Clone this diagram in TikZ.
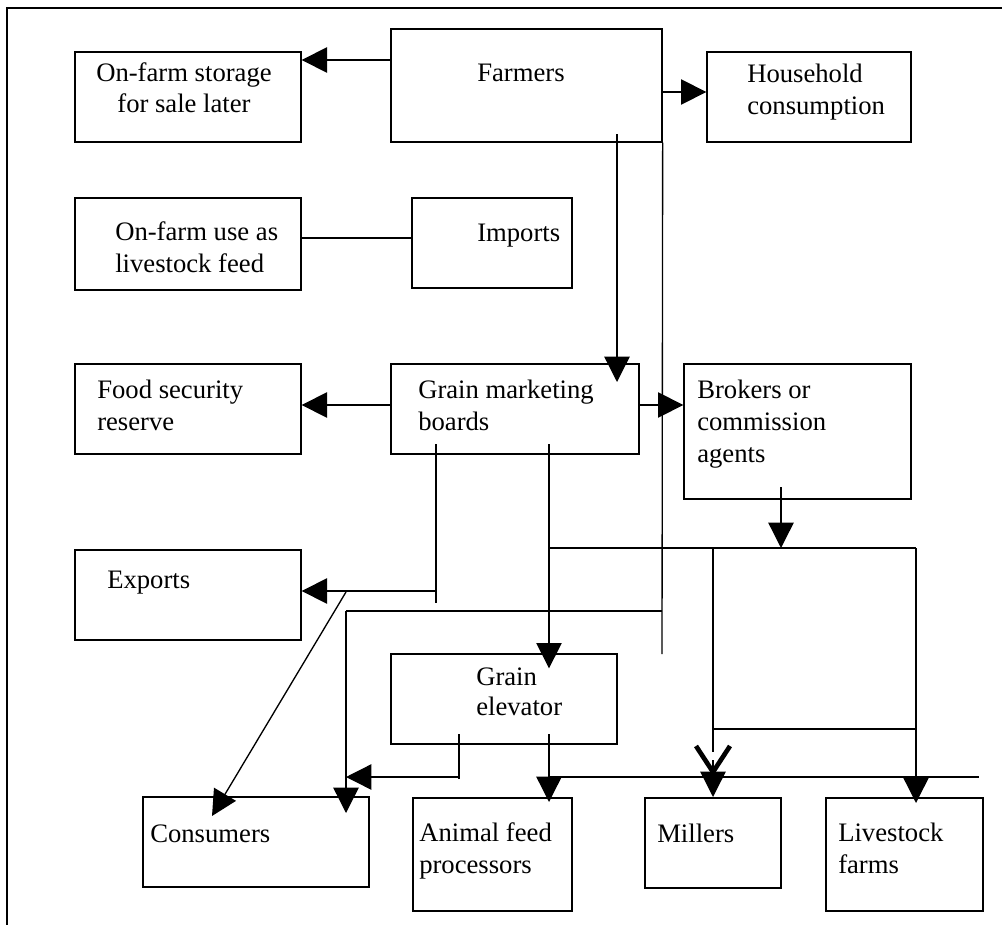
\documentclass[tikz,border=0pt]{standalone}
\usepackage{fontspec}
\setmainfont{Liberation Serif}
\usetikzlibrary{arrows.meta,fit}
\begin{document}
\begin{tikzpicture}[x=0.75pt,y=-0.75pt,
  box/.style={draw,line width=1pt,inner sep=0pt,rectangle},
  txt/.style={inner sep=0pt,font=\fontsize{20}{24}\selectfont,align=left},
  ln/.style={line width=1pt},
  arr/.style={line width=1pt,-{Triangle[length=19pt,width=19pt]}},
  vmark/.style={line width=3.5pt}
]
\useasboundingbox (0,0) rectangle (1002,924);
% frame
\draw[line width=1.2pt] (1010,8) -- (7,8) -- (7,930);
% boxes
\node[box,fit={(75,52)(301,142)}] (stor) {};
\node[box,fit={(391,29)(662,142)}] (farm) {};
\node[box,fit={(707,52)(911,142)}] (hh) {};
\node[box,fit={(75,198)(301,290)}] (use) {};
\node[box,fit={(412,198)(572,288)}] (imp) {};
\node[box,fit={(75,364)(301,454)}] (food) {};
\node[box,fit={(391,364)(639,454)}] (gmb) {};
\node[box,fit={(684,364)(911,499)}] (brok) {};
\node[box,fit={(75,550)(301,640)}] (exp) {};
\node[box,fit={(391,654)(617,744)}] (elev) {};
\node[box,fit={(143,797)(369,887)}] (cons) {};
\node[box,fit={(413,798)(572,911)}] (anim) {};
\node[box,fit={(645,798)(781,888)}] (mill) {};
\node[box,fit={(826,798)(983,911)}] (live) {};
% texts (anchor = baseline of the last line)
\node[txt,align=center,anchor=base] (stor-t) at (184,113) {On-farm storage\\for sale later};
\node[txt,anchor=base] (farm-t) at (521,82) {Farmers};
\node[txt,anchor=base west] (hh-t) at (747,114) {Household\\consumption};
\node[txt,anchor=base west] (use-t) at (115,272) {On-farm use as\\livestock feed};
\node[txt,anchor=base west] (imp-t) at (477,241) {Imports};
\node[txt,anchor=base west] (food-t) at (97,430) {Food security\\reserve};
\node[txt,anchor=base west] (gmb-t) at (418,430) {Grain marketing\\boards};
\node[txt,anchor=base west] (brok-t) at (697,462) {Brokers or\\commission\\agents};
\node[txt,anchor=base west] (exp-t) at (107,588) {Exports};
\node[txt,anchor=base west,font=\fontsize{20}{22.5}\selectfont] (elev-t) at (476,715) {Grain\\elevator};
\node[txt,anchor=base west] (cons-t) at (150,842) {Consumers};
\node[txt,anchor=base west] (anim-t) at (419,873) {Animal feed\\processors};
\node[txt,anchor=base west] (mill-t) at (657,842) {Millers};
\node[txt,anchor=base west] (live-t) at (838,873) {Livestock\\farms};
% connectors
\draw[arr] (farm.west |- 0,60) -- (stor.east |- 0,60);
\draw[arr] (farm.east |- 0,92) -- (hh.west |- 0,92);
\draw[ln] (use.east |- 0,238) -- (imp.west |- 0,238);
\coordinate (f1) at (617,134);
\coordinate (g1) at (617,382);
\draw[arr] (f1) -- (g1);
\coordinate (r1) at (662,654);
\draw[ln] (farm.south east) -- (r1);
\draw[arr] (gmb.west |- 0,405) -- (food.east |- 0,405);
\draw[arr] (gmb.east |- 0,405) -- (brok.west |- 0,405);
% GMB to exports / consumers
\coordinate (a1) at (436,444);
\coordinate (a2) at (436,603);
\draw[ln] (a1) -- (a2);
\draw[arr] (436,591) -- (exp.east |- 0,591);
\coordinate (d1) at (346,592);
\coordinate (d2) at (212,816);
\draw[arr] (d1) -- (d2);
% GMB to elevator and right network
\coordinate (b1) at (549,444);
\draw[arr] (b1) -- (elev.north -| 549,0) -- +(0,15);
\draw[ln] (549,548) -- (916,548);
\draw[ln] (713,548) -- (713,752);
\draw[ln] (713,729) -- (916,729);
\draw[arr] (916,548) -- (916,803);
\draw[arr] (781,487) -- (781,548);
% farmers side line to consumers
\draw[ln] (662,611) -- (346,611);
\draw[arr] (346,611) -- (346,813);
% elevator outputs
\draw[ln] (459,734) -- (459,779);
\draw[arr] (459,777) -- (346,777);
\draw[arr] (549,734) -- (549,802);
\draw[ln] (549,777) -- (979,777);
% millers arrow with V mark
\draw[vmark] (696,746) -- (713,772) -- (730,746);
\draw[arr] (713,760) -- (713,797);
\end{tikzpicture}
\end{document}
